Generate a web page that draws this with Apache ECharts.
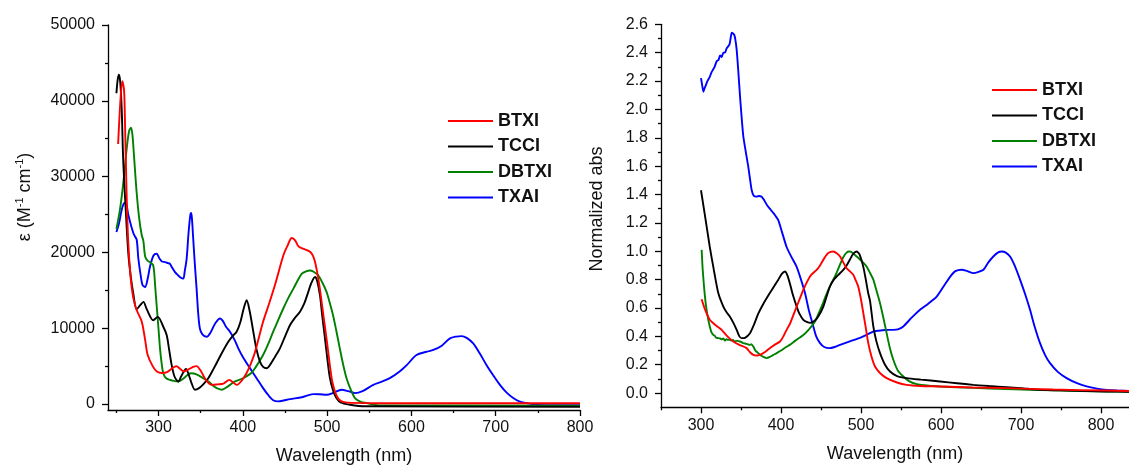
<!DOCTYPE html>
<html>
<head>
<meta charset="utf-8">
<script src="https://cdn.jsdelivr.net/npm/echarts@6/dist/echarts.min.js"></script>
<style>html,body{margin:0;padding:0;background:#fff}#c{width:1129px;height:470px}</style>
</head>
<body>
<div id="c"></div>
<script>
// ---------- Data (wavelength nm, value) ----------
const seriesNames = ['BTXI', 'TCCI', 'DBTXI', 'TXAI'];
const seriesColors = ['#ff0000', '#000000', '#008000', '#0000ff'];

// Left: molar absorptivity (M^-1 cm^-1)
const BTXI_eps = [[252,34300],[255,40500],[257,42600],[259,41500],[260,38000],[262,28000],[264,21400],[267,16500],[270,14000],[274,12400],[280,10900],[284,8500],[287,6500],[293,5000],[298,4300],[304,4100],[310,4200],[316,4700],[321,5000],[326,4600],[330,4300],[336,4600],[341,4900],[345,5000],[350,4400],[356,3200],[363,2530],[370,2600],[377,2700],[384,3190],[389,2800],[393,2530],[398,3000],[404,4000],[409,5200],[414,6690],[424,10850],[431,13200],[438,15660],[448,19600],[453,20900],[458,21900],[462,21600],[466,20800],[472,20470],[478,20200],[482,19800],[485,19000],[488,17500],[491,15500],[494,13000],[497,10500],[500,8000],[503,5300],[506,3000],[510,1400],[514,600],[520,250],[530,150],[560,100],[800,100]];
const TCCI_eps = [[250,41000],[251.5,42800],[253,43440],[254.5,42500],[256.3,38850],[258,32300],[261,25700],[264,20000],[267,16800],[270,14600],[274,12500],[278,13000],[282,13480],[286,12500],[293.7,11060],[299,11500],[305.6,10190],[309.6,9100],[312.5,7200],[315.5,5160],[319,3600],[323.4,2980],[327,3700],[332.5,4640],[336,3800],[339,2800],[343.2,1880],[348,2100],[353,2600],[359,3400],[366,4800],[374,6500],[382.7,8200],[388,9000],[392.6,9540],[397,10800],[401,12600],[404.5,13690],[408,12300],[412.4,9540],[416,7300],[420.3,5600],[424,4900],[428.2,4720],[433,5300],[438,6200],[444,7350],[450,8900],[455.9,10400],[462,11400],[467.8,12170],[473,13300],[477.6,14790],[481,15900],[485.6,16760],[488,16300],[491.5,14350],[494,11800],[497.4,8660],[500,6200],[503.3,3410],[507,1800],[511,790],[516,200],[527,-90],[545,-300],[800,-350]];
const DBTXI_eps = [[250,23100],[254,25500],[258,29000],[262,33500],[265,36000],[267.3,36440],[269,35500],[271,32500],[274,27900],[277,24500],[280,22300],[282,21500],[284,19500],[287,18900],[290,18700],[293.7,18280],[296,15500],[297.7,13030],[300,9800],[301.7,7350],[303.5,5500],[305.6,4070],[309,3400],[313.5,3190],[318,3050],[323.4,2980],[330,3400],[335,3900],[339,4070],[345,3900],[353,3410],[360,2900],[366,2300],[369,2100],[375,1880],[382,2300],[390.6,2980],[400,3400],[410,4100],[416,5000],[424,6470],[430,7900],[436,9540],[442,11100],[448,12600],[454,14000],[460,15220],[465,16300],[470,17190],[475,17500],[479.6,17620],[484,17450],[489.4,16970],[494,16100],[499.3,14790],[503,13400],[507,11720],[511,9600],[515,7350],[519,5200],[523,3410],[528,1900],[533,790],[540,300],[547,130],[560,-150],[800,-220]];
const TXAI_eps = [[250,22700],[253,23800],[256,25500],[258.5,26400],[261,26600],[264,25000],[268,23300],[271,22300],[274,21700],[276,19200],[279,16800],[281,15700],[284,15440],[287,16500],[290,18200],[294,19600],[297.7,19820],[301,19200],[304,18800],[307.6,18730],[311,18600],[313.5,18500],[316,18000],[319.5,17410],[323,17000],[326,16700],[329.3,16540],[331,17500],[333.3,19160],[335.5,22500],[337.5,24800],[338.5,25200],[339.5,24600],[341,22000],[343,18500],[345.1,15220],[347,12000],[349,9970],[352,9200],[357,8880],[362,9500],[367,10600],[372.9,11290],[376,11000],[380,10200],[384.7,9540],[390,8500],[394.6,7350],[400.5,6100],[408,4800],[416.3,3410],[424,2100],[430,1200],[436,500],[442,350],[456,650],[470,900],[483.5,1310],[491,1300],[499.3,1220],[508,1500],[517,1880],[525,1700],[533,1440],[542,1700],[554.7,2530],[565,2950],[574.4,3410],[586,4290],[595,5200],[606,6470],[618,6900],[626,7130],[636,7700],[645.7,8660],[653,8900],[659.5,8960],[666,8700],[673.3,8000],[681,6700],[689,5160],[697,3800],[705,2530],[713,1500],[720.8,790],[728,350],[736.6,130],[750,-120],[800,-170]];

// Right: normalized absorbance
const BTXI_norm = [[300.8,0.662],[305,0.59],[311,0.517],[318,0.48],[325.8,0.446],[333,0.40],[340.4,0.364],[348,0.34],[357,0.317],[361,0.29],[365.4,0.27],[370,0.265],[373.8,0.27],[380,0.29],[386,0.317],[392,0.34],[398.8,0.364],[403,0.40],[407,0.446],[411.3,0.49],[419.6,0.61],[427.9,0.728],[434,0.80],[438,0.835],[444.6,0.869],[448.8,0.90],[454,0.95],[459.1,0.987],[465.4,0.998],[470,0.985],[473.8,0.963],[478,0.92],[482,0.88],[486,0.86],[490.4,0.834],[493,0.80],[496.6,0.75],[500,0.66],[502.9,0.564],[506,0.46],[509.1,0.352],[513,0.26],[517.5,0.188],[524,0.14],[532,0.106],[545,0.075],[557,0.058],[575,0.05],[598.8,0.047],[640,0.04],[682,0.035],[740,0.025],[807,0.018],[835,0.015]];
const TCCI_norm = [[300,1.43],[305,1.25],[311,1.03],[316,0.87],[321.6,0.705],[327.9,0.61],[332,0.57],[336,0.54],[340,0.50],[344.6,0.446],[348,0.40],[350.9,0.388],[355,0.39],[361,0.42],[366,0.48],[371.6,0.56],[378,0.63],[386,0.705],[391,0.75],[396.6,0.80],[401,0.84],[405,0.857],[408,0.83],[411,0.775],[415,0.69],[419.6,0.61],[423,0.56],[427.9,0.517],[433,0.50],[436.3,0.495],[442,0.51],[446.6,0.54],[452.9,0.61],[461,0.75],[466,0.80],[471,0.83],[477.9,0.869],[482,0.90],[486,0.94],[490,0.98],[494.6,0.998],[498,0.98],[502.9,0.89],[506,0.80],[509,0.705],[511.3,0.65],[515.4,0.47],[519,0.37],[523.8,0.282],[530,0.2],[536.3,0.152],[545,0.12],[557,0.106],[575,0.095],[598.8,0.082],[620,0.07],[640.4,0.058],[660,0.05],[682,0.042],[700,0.035],[723.8,0.023],[760,0.018],[807,0.011],[835,0.01]];
const DBTXI_norm = [[300.8,1.01],[302,0.88],[303.8,0.75],[305.5,0.65],[307,0.587],[309,0.52],[311,0.47],[313,0.43],[315.4,0.41],[317,0.405],[319,0.39],[321.6,0.388],[324,0.385],[326,0.38],[328,0.385],[330,0.37],[332,0.38],[334,0.375],[336,0.376],[338,0.37],[340,0.375],[342,0.365],[345,0.368],[348.8,0.364],[352,0.355],[355,0.35],[358,0.345],[361,0.34],[363,0.345],[365.4,0.328],[368,0.30],[371.6,0.282],[375,0.265],[378,0.255],[382,0.247],[386,0.255],[390,0.268],[394.6,0.282],[400,0.30],[405,0.32],[411,0.34],[418,0.37],[427.9,0.41],[435,0.45],[442.5,0.505],[448,0.575],[452.9,0.64],[457,0.70],[461,0.75],[465.4,0.80],[469.6,0.85],[474,0.91],[478,0.96],[482,0.99],[485,0.998],[488,0.995],[494.6,0.963],[501,0.93],[507.1,0.892],[511,0.85],[515.4,0.80],[519,0.73],[523.8,0.634],[528,0.53],[532,0.423],[536,0.32],[540.4,0.235],[546,0.16],[552.9,0.117],[560,0.085],[569.6,0.063],[585,0.052],[598.8,0.047],[640,0.037],[682,0.028],[740,0.02],[807,0.011],[835,0.01]];
const TXAI_norm = [[300,2.22],[301.5,2.17],[303,2.125],[304.5,2.15],[306,2.17],[308,2.2],[311,2.23],[313,2.26],[315,2.28],[317,2.3],[319.6,2.34],[322,2.35],[323.8,2.38],[326,2.37],[327.9,2.40],[330,2.40],[332,2.43],[335.4,2.455],[337,2.50],[338.4,2.54],[340,2.535],[341.6,2.525],[343,2.49],[344.6,2.42],[346.5,2.28],[348.8,2.09],[351,1.93],[352.9,1.81],[356,1.70],[359,1.60],[361,1.52],[363.4,1.43],[366,1.39],[369.6,1.385],[372,1.39],[375.9,1.385],[379,1.36],[382,1.33],[386,1.30],[390.4,1.27],[393,1.25],[396.6,1.22],[401,1.14],[407,1.03],[413,0.96],[419.6,0.89],[425,0.80],[430,0.705],[435,0.58],[440.4,0.47],[444,0.40],[448.8,0.352],[454,0.325],[461,0.317],[467,0.325],[473.8,0.34],[486,0.365],[498.8,0.39],[507,0.41],[515,0.434],[522,0.44],[530,0.445],[540,0.446],[546,0.45],[552.9,0.47],[563,0.53],[573.8,0.587],[584,0.63],[594.6,0.68],[603,0.75],[611.3,0.82],[618,0.86],[625.9,0.87],[633,0.86],[640.4,0.846],[647,0.855],[653,0.87],[659,0.92],[665.4,0.963],[671,0.99],[675.9,0.998],[681,0.99],[686.3,0.963],[692,0.90],[698.8,0.80],[705,0.70],[711.3,0.587],[717,0.47],[723.8,0.352],[730,0.27],[736.3,0.211],[746,0.15],[757,0.106],[770,0.07],[782,0.047],[795,0.032],[807,0.023],[820,0.018],[835,0.015]];

// Ticks
const leftXMajor = [300, 400, 500, 600, 700, 800];
const leftXMinor = [250, 350, 450, 550, 650, 750];
const leftYMajor = [0, 10000, 20000, 30000, 40000, 50000];
const leftYMinor = [5000, 15000, 25000, 35000, 45000];
const rightXMajor = [300, 400, 500, 600, 700, 800];
const rightXMinor = [250, 350, 450, 550, 650, 750];
const rightYMajor = [0, 0.2, 0.4, 0.6, 0.8, 1.0, 1.2, 1.4, 1.6, 1.8, 2.0, 2.2, 2.4, 2.6];
const rightYMinor = [0.1, 0.3, 0.5, 0.7, 0.9, 1.1, 1.3, 1.5, 1.7, 1.9, 2.1, 2.3, 2.5];

const xTitle = 'Wavelength (nm)';
const leftYTitle = 'ε (M{sup|-1} cm{sup|-1})';
const rightYTitle = 'Normalized abs';

// ---------- Chart ----------
const FONT = '"Liberation Sans", Arial, sans-serif';
const AX = '#000';

function majorAxis(kind, grid, min, max, ticks, extra) {
  return Object.assign({
    type: 'value', gridIndex: grid, min: min, max: max,
    position: kind === 'x' ? 'bottom' : 'left',
    axisLine: { show: true, onZero: false, lineStyle: { color: AX, width: 1.3 } },
    axisTick: { show: true, customValues: ticks, length: 6, lineStyle: { color: AX, width: 1.3 } },
    axisLabel: { customValues: ticks, color: '#111', fontSize: 16, fontFamily: FONT, margin: kind === 'x' ? 10 : 13, formatter: v => String(v) },
    splitLine: { show: false }
  }, extra || {});
}
function minorAxis(kind, grid, min, max, ticks) {
  return {
    type: 'value', gridIndex: grid, min: min, max: max,
    position: kind === 'x' ? 'bottom' : 'left',
    axisLine: { show: false, onZero: false },
    axisTick: { show: true, customValues: ticks, length: 3, lineStyle: { color: AX, width: 1.3 } },
    axisLabel: { show: false },
    splitLine: { show: false }
  };
}

const L_XMIN = 240, L_XMAX = 800, L_YMIN = -787, L_YMAX = 50000;
const R_XMIN = 250, R_XMAX = 835, R_YMIN = -0.1, R_YMAX = 2.6;

const nameStyle = { fontSize: 18, fontFamily: FONT, color: '#111' };

const leftData = [BTXI_eps, TCCI_eps, DBTXI_eps, TXAI_eps];
const rightData = [BTXI_norm, TCCI_norm, DBTXI_norm, TXAI_norm];

const series = [];
seriesNames.forEach((n, i) => {
  series.push({ name: n, type: 'line', xAxisIndex: 0, yAxisIndex: 0, data: leftData[i], symbol: 'none', smooth: 0.3,
    lineStyle: { color: seriesColors[i], width: 1.9 }, itemStyle: { color: seriesColors[i] }, z: 10 - i, animation: false });
});
seriesNames.forEach((n, i) => {
  series.push({ name: n, type: 'line', xAxisIndex: 2, yAxisIndex: 2, data: rightData[i], symbol: 'none', smooth: 0.2,
    lineStyle: { color: seriesColors[i], width: 1.9 }, itemStyle: { color: seriesColors[i] }, z: 10 - i, animation: false });
});

const legendBase = {
  orient: 'vertical', icon: 'rect', itemWidth: 45, itemHeight: 2, itemGap: 5.5,
  textStyle: { fontSize: 18, fontWeight: 'bold', color: '#111', fontFamily: FONT, lineHeight: 20 },
  data: seriesNames, selectedMode: false
};

const option = {
  backgroundColor: '#fff',
  animation: false,
  grid: [
    { left: 108, top: 25, width: 472, height: 387 },
    { left: 661, top: 24.3, width: 468, height: 383 }
  ],
  xAxis: [
    majorAxis('x', 0, L_XMIN, L_XMAX, leftXMajor, { name: xTitle, nameLocation: 'middle', nameGap: 37, nameTextStyle: nameStyle }),
    minorAxis('x', 0, L_XMIN, L_XMAX, leftXMinor),
    majorAxis('x', 1, R_XMIN, R_XMAX, rightXMajor, { name: xTitle, nameLocation: 'middle', nameGap: 38, nameTextStyle: nameStyle }),
    minorAxis('x', 1, R_XMIN, R_XMAX, rightXMinor)
  ],
  yAxis: [
    majorAxis('y', 0, L_YMIN, L_YMAX, leftYMajor),
    minorAxis('y', 0, L_YMIN, L_YMAX, leftYMinor),
    majorAxis('y', 1, R_YMIN, R_YMAX, rightYMajor, { axisLabel: { customValues: rightYMajor, color: '#111', fontSize: 16, fontFamily: FONT, margin: 13, formatter: v => v.toFixed(1) } }),
    minorAxis('y', 1, R_YMIN, R_YMAX, rightYMinor)
  ],
  legend: [
    Object.assign({}, legendBase, { left: 443, top: 106 }),
    Object.assign({}, legendBase, { left: 987, top: 75 })
  ],
  graphic: [
    { type: 'text', x: 25, y: 197, rotation: Math.PI / 2,
      style: { text: leftYTitle, fontSize: 18, fontFamily: FONT, fill: '#111', align: 'center', verticalAlign: 'middle',
        rich: { sup: { fontSize: 11, fontFamily: FONT, fill: '#111', verticalAlign: 'top', lineHeight: 22, padding: [0, 0, 8, 0] } } } },
    { type: 'text', x: 597, y: 209, rotation: Math.PI / 2,
      style: { text: rightYTitle, fontSize: 18, fontFamily: FONT, fill: '#111', align: 'center', verticalAlign: 'middle' } }
  ],
  series: series
};

const chart = echarts.init(document.getElementById('c'), null, { renderer: 'canvas' });
chart.setOption(option);
</script>
</body>
</html>
